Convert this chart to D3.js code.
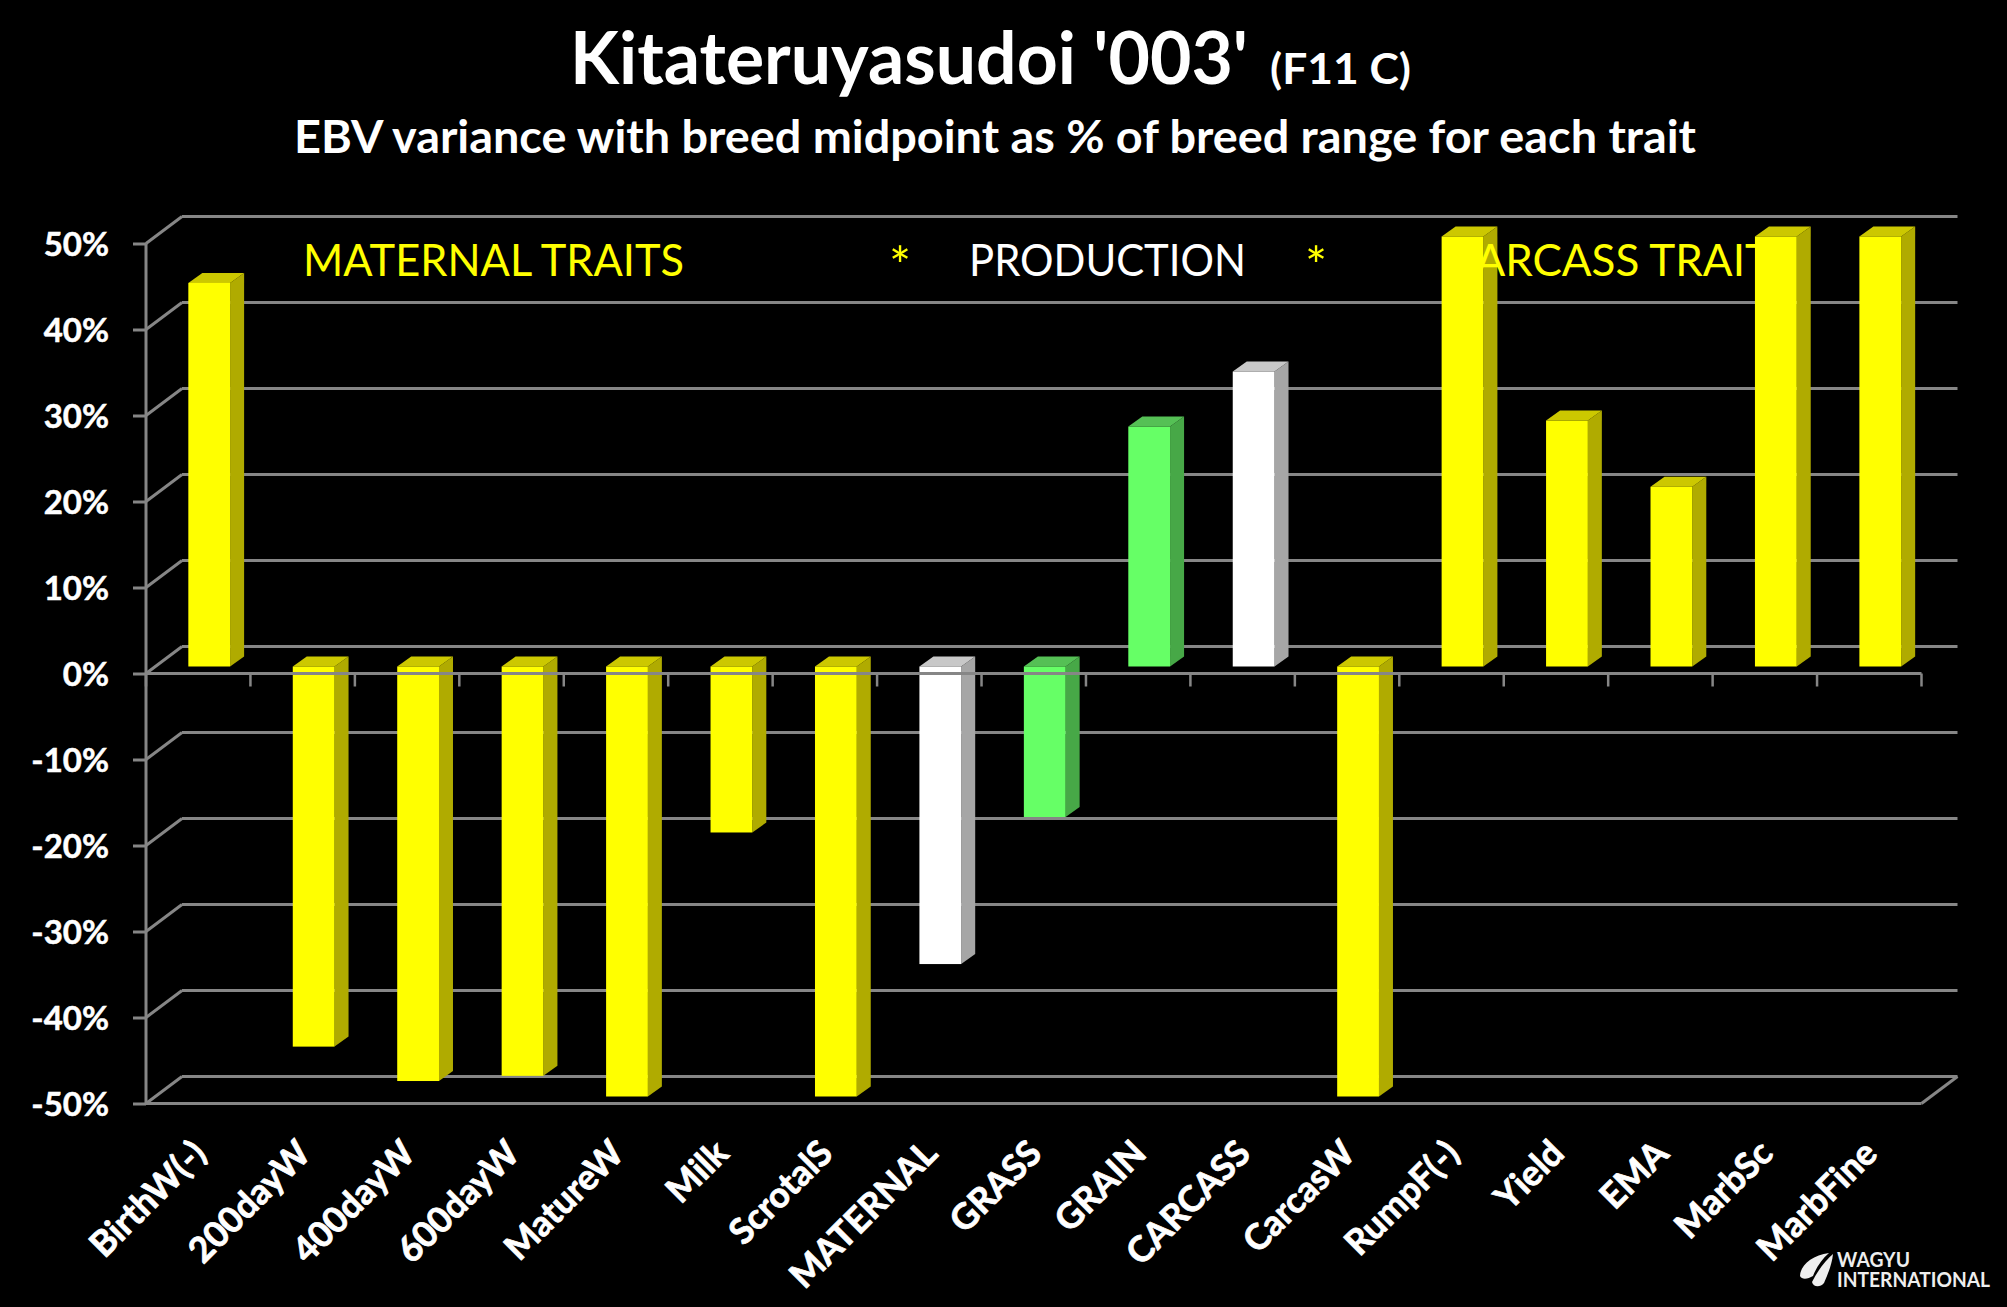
<!DOCTYPE html>
<html><head><meta charset="utf-8">
<script src="https://cdn.jsdelivr.net/npm/d3@7"></script>
<style>html,body{margin:0;padding:0;background:#000}svg{display:block}text{font-family:Lato,"Open Sans",sans-serif}</style>
</head><body><svg id="c" width="2007" height="1307"></svg>
<script>
const categories=["BirthW(-)","200dayW","400dayW","600dayW","MatureW","Milk","ScrotalS","MATERNAL","GRASS","GRAIN","CARCASS","CarcasW","RumpF(-)","Yield","EMA","MarbSc","MarbFine"];
const values=[44.6,-44.2,-48.2,-47.6,-50,-19.3,-50,-34.6,-17.5,27.9,34.3,-50,50,28.6,20.9,50,50];
const kinds=["trait","trait","trait","trait","trait","trait","trait","index","index2","index2","index","trait","trait","trait","trait","trait","trait"];
const yTicks=[50,40,30,20,10,0,-10,-20,-30,-40,-50];
const palette={trait:["#ffff00","#b0ab00","#ccc800"],index:["#ffffff","#a6a6a6","#c8c8c8"],index2:["#66ff66","#47a847","#55c055"]};

const W=2007,H=1307,grid="#868686";
const svg=d3.select("#c");
svg.append("rect").attr("width",W).attr("height",H).attr("fill","#000");
const x=d3.scaleBand().domain(categories).range([146,1921.5]).paddingInner(0.6).paddingOuter(0.3);
const y=d3.scaleLinear().domain([-50,50]).range([1103.5,243.5]);
const depth={x:36,y:-27}, barShift={x:11,y:-7}, barDepth={x:14,y:-10};
const line=(g,x1,y1,x2,y2,w=3)=>g.append("line").attr("x1",x1).attr("y1",y1).attr("x2",x2).attr("y2",y2).attr("stroke",grid).attr("stroke-width",w);

// walls
const walls=svg.append("g");
yTicks.forEach(t=>{
  line(walls,146,y(t),146+depth.x,y(t)+depth.y);
  line(walls,146+depth.x,y(t)+depth.y,1921.5+depth.x,y(t)+depth.y);
});
line(walls,146,y(50),146,y(-50));
line(walls,146,y(-50),1921.5,y(-50));
line(walls,1921.5,y(-50),1921.5+depth.x,y(-50)+depth.y);

// bars
const bars=svg.append("g").selectAll("g").data(categories).join("g");
const bw=x.bandwidth();
bars.each(function(c,i){
  const g=d3.select(this),v=values[i],col=palette[kinds[i]];
  const x0=x(c)+barShift.x, y0=y(Math.max(v,0))+barShift.y, y1=y(Math.min(v,0))+barShift.y;
  const dx=barDepth.x,dy=barDepth.y;
  g.append("path").attr("fill",col[1]).attr("d",`M${x0+bw},${y0}L${x0+bw+dx},${y0+dy}L${x0+bw+dx},${y1+dy}L${x0+bw},${y1}Z`);
  g.append("path").attr("fill",col[2]).attr("d",`M${x0},${y0}L${x0+dx},${y0+dy}L${x0+bw+dx},${y0+dy}L${x0+bw},${y0}Z`);
  g.append("rect").attr("fill",col[0]).attr("x",x0).attr("y",y0).attr("width",bw).attr("height",y1-y0);
});

// zero axis with ticks at category boundaries
const zero=svg.append("g");
line(zero,146,y(0),1921.5,y(0));
d3.range(categories.length+1).forEach(i=>line(zero,146+i*x.step(),y(0),146+i*x.step(),y(0)+13,2.5));

// y axis
const yAxis=d3.axisLeft(y).tickValues(yTicks).tickFormat(d=>d+"%").tickSize(13).tickPadding(24);
const ya=svg.append("g").attr("transform","translate(146,0)").call(yAxis);
ya.select(".domain").remove();
ya.selectAll("line").attr("stroke",grid).attr("stroke-width",3);
ya.selectAll("text").attr("fill","#fff").attr("stroke","#fff").attr("stroke-width",0.5).attr("font-size",33).attr("font-weight",700).attr("dy","0.36em");

// x labels
const xAxis=d3.axisBottom(x).tickSize(0).tickPadding(0);
const xa=svg.append("g").attr("transform","translate(0,"+y(-50)+")").call(xAxis);
xa.select(".domain").remove();
xa.selectAll("text").attr("fill","#fff").attr("stroke","#fff").attr("stroke-width",0.8).attr("font-size",35.5).attr("font-weight",700)
  .attr("text-anchor","end").attr("dy",0).attr("y",0)
  .attr("transform","translate(10,52) rotate(-45)");

// titles
const txt=(s,xx,yy,size,weight,fill,len)=>{const t=svg.append("text").text(s).attr("x",xx).attr("y",yy).attr("font-size",size).attr("font-weight",weight).attr("fill",fill);
  if(len)t.attr("textLength",len).attr("lengthAdjust","spacingAndGlyphs");return t;};
txt("Kitateruyasudoi '003'",570,84,72,700,"#fff",678);
txt("(F11 C)",1270,84,42,700,"#fff",141);
txt("EBV variance with breed midpoint as % of breed range for each trait",294,153,45,700,"#fff",1402);
txt("MATERNAL TRAITS",303,276,44,400,"#ffff00",381);
txt("*",889,285,52,400,"#ffff00");
txt("PRODUCTION",969,276,44,400,"#fff",277);
txt("*",1305,285,52,400,"#ffff00");
txt("CARCASS TRAITS",1446,276,44,400,"#ffff00");

// logo
txt("WAGYU",1837,1267,20,700,"#eee",73);
txt("INTERNATIONAL",1837,1287,20,700,"#eee",153);
svg.append("path").attr("fill","#eee").attr("d","M1829,1253C1812,1255 1800,1266 1800,1276C1802,1280 1808,1279 1813,1276C1816,1268 1822,1259 1829,1253Z");
svg.append("path").attr("fill","#eee").attr("d","M1833,1254C1826,1260 1818,1270 1812,1282C1813,1287 1820,1288 1824,1283C1828,1274 1832,1264 1833,1254Z");
</script></body></html>
